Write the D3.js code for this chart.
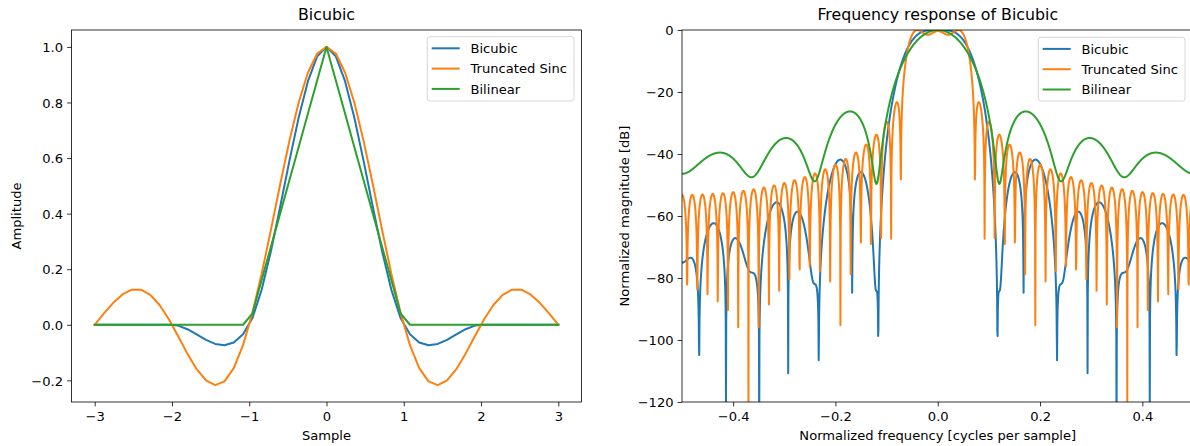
<!DOCTYPE html>
<html><head><meta charset="utf-8">
<script src="https://cdn.jsdelivr.net/npm/d3@7"></script>
<style>
html,body{margin:0;padding:0;background:#fff;}
svg{display:block;font-family:"DejaVu Sans",sans-serif;}
</style></head>
<body><svg id="chart" width="1190" height="446"></svg>
<script>
// ---- data (kernel sampled at 51 points between -3 and 3) ----
const sampleX = [-3,-2.88,-2.76,-2.64,-2.52,-2.4,-2.28,-2.16,-2.04,-1.92,-1.8,-1.68,-1.56,-1.44,-1.32,-1.2,-1.08,-0.96,-0.84,-0.72,-0.6,-0.48,-0.36,-0.24,-0.12,0,0.12,0.24,0.36,0.48,0.6,0.72,0.84,0.96,1.08,1.2,1.32,1.44,1.56,1.68,1.8,1.92,2.04,2.16,2.28,2.4,2.52,2.64,2.76,2.88,3];
const bicubicVals = [0,0,0,0,0,0,0,0,0,-0.002944,-0.016,-0.034816,-0.054208,-0.068992,-0.073984,-0.064,-0.033856,0.023104,0.125056,0.263872,0.424,0.589888,0.745984,0.876736,0.966592,1,0.966592,0.876736,0.745984,0.589888,0.424,0.263872,0.125056,0.023104,-0.033856,-0.064,-0.073984,-0.068992,-0.054208,-0.034816,-0.016,-0.002944,0,0,0,0,0,0,0,0,0];
const sincVals = [0,0.040687,0.078949,0.109097,0.126064,0.126138,0.107571,0.070994,0.019556,-0.041229,-0.103943,-0.159975,-0.200431,-0.217133,-0.203605,-0.155915,-0.073297,0.041557,0.182556,0.340641,0.504551,0.661837,0.800043,0.907911,0.976481,1,0.976481,0.907911,0.800043,0.661837,0.504551,0.340641,0.182556,0.041557,-0.073297,-0.155915,-0.203605,-0.217133,-0.200431,-0.159975,-0.103943,-0.041229,0.019556,0.070994,0.107571,0.126138,0.126064,0.109097,0.078949,0.040687,0];
const bilinearVals = [0,0,0,0,0,0,0,0,0,0,0,0,0,0,0,0,0,0.04,0.16,0.28,0.4,0.52,0.64,0.76,0.88,1,0.88,0.76,0.64,0.52,0.4,0.28,0.16,0.04,0,0,0,0,0,0,0,0,0,0,0,0,0,0,0,0,0];
const seriesNames = ["Bicubic","Truncated Sinc","Bilinear"];
const seriesColors = ["#1f77b4","#ff7f0e","#2ca02c"];
const leftXTicks = [-3,-2,-1,0,1,2,3];
const leftYTicks = [-0.2,0.0,0.2,0.4,0.6,0.8,1.0];
const rightXTicks = [-0.4,-0.2,0.0,0.2,0.4];
const rightYTicks = [0,-20,-40,-60,-80,-100,-120];
const NFFT = 2048;

// frequency response derived from the kernel samples (zero-padded DFT, normalized, dB)
function freqResponse(h){
  const n = NFFT, mag = new Array(n);
  for(let k=0;k<n;k++){
    let re=0, im=0;
    for(let t=0;t<h.length;t++){
      const a = -2*Math.PI*k*t/n;
      re += h[t]*Math.cos(a); im += h[t]*Math.sin(a);
    }
    mag[k] = Math.hypot(re,im);
  }
  const mx = d3.max(mag);
  const out = [];
  for(let j=0;j<n;j++){
    const k = (j + n/2) % n;           // fftshift
    const f = -0.5 + j/(n-1);          // linspace(-0.5,0.5,n)
    const v = mag[k]/mx;
    out.push([f, v>0 ? Math.max(20*Math.log10(v), -400) : -400]);
  }
  return out;
}

const svg = d3.select("#chart");
const FS = 13.1, TFS = 15.8, LW = 2;
const fmtMinus = s => s.replace("-", "\u2212");

function panel(opt){
  const g = svg.append("g");
  const x = d3.scaleLinear().domain(opt.xd).range([opt.x0, opt.x1]);
  const y = d3.scaleLinear().domain(opt.yd).range([opt.y1, opt.y0]);
  const cid = "clip"+opt.id;
  svg.append("clipPath").attr("id",cid).append("rect")
    .attr("x",opt.x0).attr("y",opt.y0).attr("width",opt.x1-opt.x0).attr("height",opt.y1-opt.y0);
  const line = d3.line().x(d=>x(d[0])).y(d=>y(d[1]));
  const lg = g.append("g").attr("clip-path",`url(#${cid})`);
  opt.series.forEach((s,i)=>{
    lg.append("path").attr("d",line(s)).attr("fill","none")
      .attr("stroke",seriesColors[i]).attr("stroke-width",LW)
      .attr("stroke-linejoin","round").attr("stroke-linecap","square");
  });
  // axes
  const xa = d3.axisBottom(x).tickValues(opt.xt).tickSize(4.4).tickPadding(4).tickFormat(d=>fmtMinus(opt.xf(d)));
  const ya = d3.axisLeft(y).tickValues(opt.yt).tickSize(4.4).tickPadding(4).tickFormat(d=>fmtMinus(opt.yf(d)));
  const gx = g.append("g").attr("transform",`translate(0,${opt.y1})`).call(xa);
  const gy = g.append("g").attr("transform",`translate(${opt.x0},0)`).call(ya);
  [gx,gy].forEach(a=>{
    a.select(".domain").remove();
    a.selectAll("line").attr("stroke","#000").attr("stroke-width",0.8);
    a.selectAll("text").attr("font-size",FS).attr("fill","#000").attr("font-family","DejaVu Sans");
  });
  gx.selectAll("text").attr("dy",null).attr("y",null).attr("transform",null)
    .attr("y",19.3);
  gy.selectAll("text").attr("dy","0.36em");
  // frame
  g.append("rect").attr("x",opt.x0).attr("y",opt.y0).attr("width",opt.x1-opt.x0).attr("height",opt.y1-opt.y0)
    .attr("fill","none").attr("stroke","#000").attr("stroke-width",0.8);
  // title & labels
  g.append("text").attr("x",(opt.x0+opt.x1)/2).attr("y",20).attr("text-anchor","middle")
    .attr("font-size",TFS).text(opt.title);
  g.append("text").attr("x",(opt.x0+opt.x1)/2).attr("y",440).attr("text-anchor","middle")
    .attr("font-size",FS).text(opt.xlabel);
  g.append("text").attr("transform",`translate(${opt.ylx},${(opt.y0+opt.y1)/2}) rotate(-90)`)
    .attr("text-anchor","middle").attr("font-size",FS).text(opt.ylabel);
  // legend
  const L = opt.legend;
  const lgd = g.append("g");
  lgd.append("rect").attr("x",L.x).attr("y",L.y).attr("width",L.w).attr("height",L.h)
    .attr("rx",2.6).attr("fill","#fff").attr("fill-opacity",0.8).attr("stroke","#cccccc").attr("stroke-width",0.8);
  seriesNames.forEach((nm,i)=>{
    const yy = L.y + 11.6 + i*20.3;
    lgd.append("line").attr("x1",L.x+4.4).attr("x2",L.x+32.4).attr("y1",yy).attr("y2",yy)
      .attr("stroke",seriesColors[i]).attr("stroke-width",LW);
    lgd.append("text").attr("x",L.x+43.2).attr("y",yy).attr("dy","0.36em").attr("font-size",FS).text(nm);
  });
}

const leftSeries = [bicubicVals, sincVals, bilinearVals].map(v => sampleX.map((xv,i)=>[xv, v[i]]));
const ymin = d3.min([bicubicVals,sincVals,bilinearVals].flat()), ymax = d3.max([bicubicVals,sincVals,bilinearVals].flat());
const pad = (ymax-ymin)*0.05;

panel({id:"L", x0:71.5, x1:581.5, y0:30, y1:402,
  xd:[-3.3,3.3], yd:[ymin-pad, ymax+pad], series:leftSeries,
  xt:leftXTicks, yt:leftYTicks, xf:d=>String(d), yf:d=>d.toFixed(1),
  title:"Bicubic", xlabel:"Sample", ylabel:"Amplitude", ylx:20.5,
  legend:{x:427.3,y:36.7,w:146.7,h:64.3}});

const rightSeries = [bicubicVals, sincVals, bilinearVals].map(freqResponse);
panel({id:"R", x0:682, x1:1193.5, y0:30, y1:402,
  xd:[-0.5,0.5], yd:[-120,0], series:rightSeries,
  xt:rightXTicks, yt:rightYTicks, xf:d=>d.toFixed(1), yf:d=>String(d),
  title:"Frequency response of Bicubic", xlabel:"Normalized frequency [cycles per sample]",
  ylabel:"Normalized magnitude [dB]", ylx:629,
  legend:{x:1038.3,y:37.3,w:146.7,h:63.7}});
</script></body></html>
